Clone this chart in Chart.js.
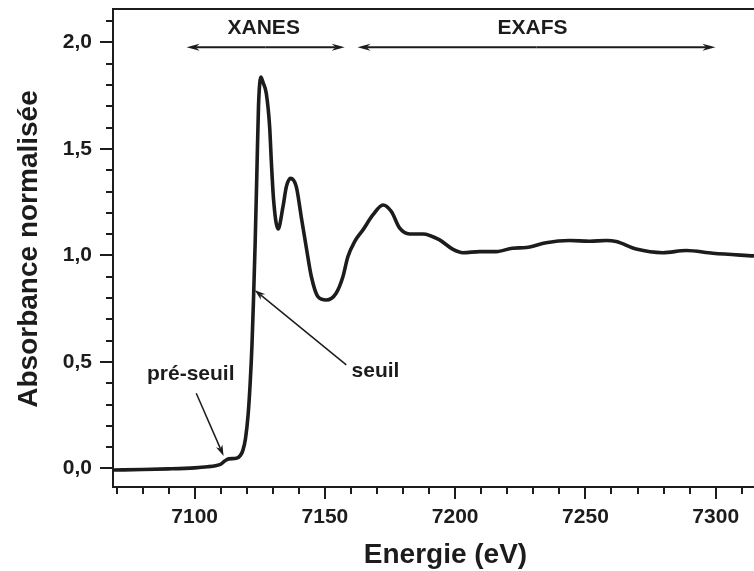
<!DOCTYPE html>
<html>
<head>
<meta charset="utf-8">
<script src="https://cdn.jsdelivr.net/npm/chart.js@4/dist/chart.umd.min.js"></script>
<style>
html,body{margin:0;padding:0;background:#fff;}
#wrap{width:754px;height:571px;position:relative;}
</style>
</head>
<body>
<div id="wrap"><canvas id="c" width="754" height="571"></canvas></div>
<script>
// ---- data ----
const energy = [7069, 7080, 7090, 7100, 7105, 7108, 7110, 7111.5, 7113, 7116, 7117.5, 7118.5, 7119.5, 7120.5, 7121.3, 7122, 7122.6, 7123.2, 7123.9, 7124.5, 7125.4, 7126.3, 7127.5, 7128.8, 7129.4, 7130.3, 7132, 7133.9, 7135.2, 7136.8, 7139, 7140.9, 7142.8, 7144.8, 7147.3, 7150.5, 7154.3, 7156.9, 7158.8, 7161.4, 7164.6, 7168.4, 7172.3, 7175.5, 7178.7, 7182.5, 7187.6, 7194, 7199, 7203, 7209.4, 7215.8, 7222, 7227.3, 7234.9, 7243.9, 7251.6, 7258, 7261.8, 7269.5, 7279.7, 7288.7, 7298.9, 7314.7];
const absorbance = [-0.007, -0.005, -0.002, 0.003, 0.008, 0.013, 0.02, 0.035, 0.045, 0.048, 0.06, 0.085, 0.14, 0.25, 0.40, 0.58, 0.80, 1.05, 1.40, 1.70, 1.837, 1.81, 1.76, 1.60, 1.448, 1.26, 1.124, 1.229, 1.323, 1.362, 1.323, 1.182, 1.041, 0.90, 0.807, 0.791, 0.823, 0.90, 0.994, 1.065, 1.12, 1.19, 1.237, 1.206, 1.128, 1.101, 1.101, 1.073, 1.03, 1.013, 1.018, 1.018, 1.034, 1.037, 1.06, 1.07, 1.067, 1.07, 1.065, 1.03, 1.013, 1.023, 1.01, 0.998];
const xMajorLabels = [7100, 7150, 7200, 7250, 7300];
const yMajorLabels = ["0,0", "0,5", "1,0", "1,5", "2,0"];
const regionLabels = ["XANES", "EXAFS"];
const regionRanges = [[7096.9, 7157.6], [7162.5, 7299.9]];
const regionArrowY = 1.977;
const regionLabelPos = [[7126.5, 2.065], [7229.7, 2.065]];
const pointerLabels = ["seuil", "pré-seuil"];
const pointerLabelPos = [[7169.4, 0.455], [7098.5, 0.444]];
const pointerArrows = [[[7158.2, 0.486], [7123.0, 0.838]], [[7100.6, 0.353], [7111.1, 0.059]]];
const xTitle = "Energie (eV)";
const yTitle = "Absorbance normalisée";

const FONT = '"Liberation Sans", Arial, Helvetica, sans-serif';
const INK = '#1c1c1c';

function arrow(ctx, x1, y1, x2, y2, lw, hl, hw) {
  const a = Math.atan2(y2 - y1, x2 - x1);
  ctx.save();
  ctx.strokeStyle = INK; ctx.fillStyle = INK; ctx.lineWidth = lw;
  ctx.beginPath();
  ctx.moveTo(x1, y1);
  ctx.lineTo(x2 - Math.cos(a) * hl * 0.7, y2 - Math.sin(a) * hl * 0.7);
  ctx.stroke();
  ctx.beginPath();
  ctx.moveTo(x2, y2);
  ctx.lineTo(x2 - Math.cos(a) * hl - Math.sin(a) * hw, y2 - Math.sin(a) * hl + Math.cos(a) * hw);
  ctx.lineTo(x2 - Math.cos(a) * hl * 0.7, y2 - Math.sin(a) * hl * 0.7);
  ctx.lineTo(x2 - Math.cos(a) * hl + Math.sin(a) * hw, y2 - Math.sin(a) * hl - Math.cos(a) * hw);
  ctx.closePath();
  ctx.fill();
  ctx.restore();
}

const decor = {
  id: 'decor',
  afterDraw(chart) {
    const ctx = chart.ctx;
    const xs = chart.scales.x, ys = chart.scales.y;
    const ca = chart.chartArea;
    ctx.save();
    // frame lines (left, bottom, top)
    ctx.strokeStyle = INK; ctx.lineWidth = 2;
    ctx.beginPath();
    ctx.moveTo(ca.right + 2, ca.top); ctx.lineTo(ca.left, ca.top); ctx.lineTo(ca.left, ca.bottom); ctx.lineTo(ca.right + 2, ca.bottom);
    ctx.stroke();
    // tick marks
    ctx.lineWidth = 2;
    xs.ticks.forEach(t => {
      const px = Math.round(xs.getPixelForValue(t.value));
      const major = Math.abs(t.value % 50) < 1e-6;
      ctx.beginPath(); ctx.moveTo(px, ca.bottom); ctx.lineTo(px, ca.bottom + (major ? 12 : 7)); ctx.stroke();
    });
    ys.ticks.forEach(t => {
      const py = Math.round(ys.getPixelForValue(t.value));
      const major = Math.abs(t.value * 2 - Math.round(t.value * 2)) < 1e-6;
      ctx.beginPath(); ctx.moveTo(ca.left, py); ctx.lineTo(ca.left - (major ? 13 : 7), py); ctx.stroke();
    });
    // axis titles
    ctx.fillStyle = INK;
    ctx.font = 'bold 28px ' + FONT;
    ctx.textAlign = 'center'; ctx.textBaseline = 'alphabetic';
    ctx.fillText(xTitle, (ca.left + ca.right) / 2 + 12, 563);
    ctx.save();
    ctx.translate(37, 249);
    ctx.rotate(-Math.PI / 2);
    ctx.fillText(yTitle, 0, 0);
    ctx.restore();
    // region arrows and labels
    ctx.font = 'bold 21px ' + FONT;
    regionRanges.forEach((r, i) => {
      const xa = xs.getPixelForValue(r[0]), xb = xs.getPixelForValue(r[1]);
      const y = ys.getPixelForValue(regionArrowY);
      const mid = (xa + xb) / 2;
      arrow(ctx, mid, y, xa, y, 2, 13, 3.5);
      arrow(ctx, mid, y, xb, y, 2, 13, 3.5);
      const lp = regionLabelPos[i];
      ctx.textBaseline = 'middle';
      ctx.fillText(regionLabels[i], xs.getPixelForValue(lp[0]), ys.getPixelForValue(lp[1]));
    });
    // pointer labels and arrows
    pointerLabels.forEach((s, i) => {
      const lp = pointerLabelPos[i];
      ctx.textBaseline = 'middle';
      ctx.fillText(s, xs.getPixelForValue(lp[0]), ys.getPixelForValue(lp[1]));
      const a = pointerArrows[i];
      arrow(ctx, xs.getPixelForValue(a[0][0]), ys.getPixelForValue(a[0][1]),
                 xs.getPixelForValue(a[1][0]), ys.getPixelForValue(a[1][1]), 1.5, 11, 3.5);
    });
    ctx.restore();
  }
};

new Chart(document.getElementById('c'), {
  type: 'scatter',
  data: {
    datasets: [{
      data: energy.map((e, i) => ({ x: e, y: absorbance[i] })),
      showLine: true,
      borderColor: INK,
      borderWidth: 3.6,
      pointRadius: 0,
      cubicInterpolationMode: 'monotone',
      fill: false
    }]
  },
  options: {
    responsive: false,
    animation: false,
    devicePixelRatio: 1,
    layout: { padding: { top: 9, right: 0, left: 0, bottom: 0 } },
    plugins: { legend: { display: false }, tooltip: { enabled: false } },
    scales: {
      x: {
        type: 'linear', min: 7068.65, max: 7314.7,
        grid: { display: false, drawTicks: false },
        border: { display: false },
        afterFit(s) { s.height = 84; s.paddingLeft = 0; s.paddingRight = 0; },
        ticks: {
          stepSize: 10, includeBounds: false, autoSkip: false, maxRotation: 0,
          padding: 18, color: INK,
          font: { family: FONT, size: 21, weight: 'bold' },
          callback: v => xMajorLabels.includes(v) ? String(v) : ''
        }
      },
      y: {
        type: 'linear', min: -0.087, max: 2.157,
        grid: { display: false, drawTicks: false },
        border: { display: false },
        afterFit(s) { s.width = 113; s.paddingTop = 0; s.paddingBottom = 0; },
        ticks: {
          stepSize: 0.1, includeBounds: false, autoSkip: false,
          padding: 21, color: INK,
          font: { family: FONT, size: 21, weight: 'bold' },
          callback: v => {
            const k = Math.round(v * 2);
            if (Math.abs(v * 2 - k) < 1e-6 && k >= 0 && k < yMajorLabels.length) return yMajorLabels[k];
            return '';
          }
        }
      }
    }
  },
  plugins: [decor]
});
</script>
</body>
</html>
